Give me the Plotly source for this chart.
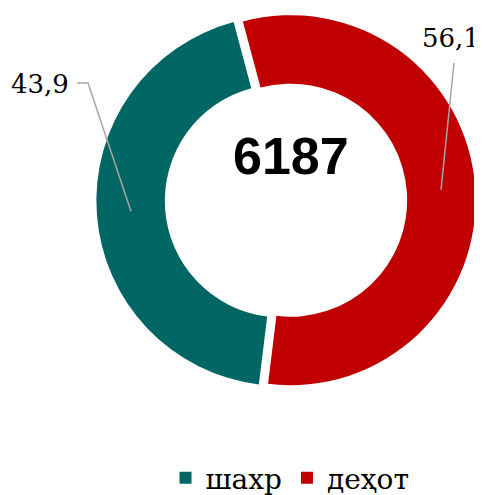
import math
import plotly.graph_objects as go

# data
labels = ["шахр", "деҳот"]
values = [43.9, 56.1]
value_text = ["43,9", "56,1"]
colors = ["#006663", "#C00000"]
total = "6187"

W, H = 482, 495
OFF = 8  # page body margin offsets the figure on screen

# pie geometry (screen pixels)
CX, CY = 286, 200.5
R_OUT = 185
HOLE = 0.63
PULL = 0.025
ROTATION = 187


def px(x, y):
    return (x - OFF) / W, 1 - (y - OFF) / H


half = R_OUT * (1 + PULL)
x0, y1 = px(CX - half, CY - half)
x1, y0 = px(CX + half, CY + half)

fig = go.Figure()
fig.add_trace(go.Pie(
    labels=labels,
    values=values,
    hole=HOLE,
    sort=False,
    direction="clockwise",
    rotation=ROTATION,
    pull=[PULL, PULL],
    marker=dict(colors=colors, line=dict(width=0)),
    textinfo="none",
    hoverinfo="label+value",
    domain=dict(x=[x0, x1], y=[y0, y1]),
))

# leader lines from the middle of each ring slice to its label
label_pos = [(71, 84, "right"), (482, 38, "right")]
elbows = [[(77, 83), (88, 83)], [(454, 63)]]
total_v = sum(values)
start = ROTATION
shapes = []
annotations = []
r_mid = (R_OUT * HOLE + R_OUT) / 2 + R_OUT * PULL
for i, v in enumerate(values):
    span = v / total_v * 360
    mid = math.radians(start + span / 2)
    start += span
    ex = CX + r_mid * math.sin(mid)
    ey = CY - r_mid * math.cos(mid)
    pts = elbows[i] + [(ex, ey)]
    path = "M " + " L ".join("%.4f,%.4f" % px(a, b) for a, b in pts)
    shapes.append(dict(type="path", xref="paper", yref="paper", path=path,
                       line=dict(color="#A6A6A6", width=1.5)))
    lx, ly, anchor = label_pos[i]
    ax_, ay_ = px(lx, ly)
    annotations.append(dict(x=ax_, y=ay_, xref="paper", yref="paper",
                            text=value_text[i], showarrow=False,
                            xanchor=anchor, yanchor="middle",
                            font=dict(family="DejaVu Serif", size=26, color="black")))

tx, ty = px(291, 156)
annotations.append(dict(x=tx, y=ty, xref="paper", yref="paper",
                        text="<b>" + total + "</b>", showarrow=False,
                        xanchor="center", yanchor="middle",
                        font=dict(family="Liberation Sans, Arial", size=52, color="black")))

fig.update_layout(
    width=W,
    height=H,
    margin=dict(l=0, r=0, t=0, b=0),
    paper_bgcolor="white",
    plot_bgcolor="white",
    shapes=shapes,
    annotations=annotations,
    showlegend=True,
    legend=dict(orientation="h", x=(290 - OFF) / W, xanchor="center", y=0.0, yanchor="bottom",
                font=dict(family="DejaVu Serif", size=28, color="black"),
                itemwidth=30, traceorder="normal"),
)

fig.write_html("out.html")
